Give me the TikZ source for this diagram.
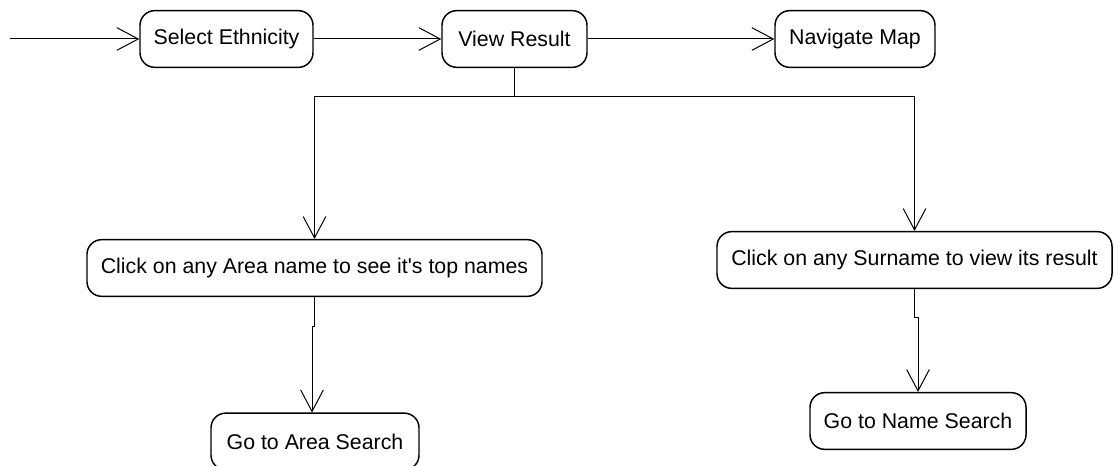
\documentclass[tikz,border=0pt]{standalone}
\usepackage{fontspec}
\setmainfont{Liberation Sans}
\usetikzlibrary{arrows.meta}
\begin{document}
\begin{tikzpicture}[x=0.75pt,y=-0.75pt,
  activity/.style={draw, line width=1.1pt, rounded corners=11pt, inner sep=0pt,
    minimum height=42.5pt, font=\fontsize{16}{19}\selectfont},
  flow/.style={line width=0.75pt, -{Straight Barb[length=16pt,width=17pt,line width=0.75pt]}},
  link/.style={line width=0.75pt}]
\useasboundingbox (0,0) rectangle (1116,466);

% activities
\node[activity, minimum width=129.75pt] (sel) at (226.5,39) {Select Ethnicity};
\node[activity, minimum width=108.75pt] (view) at (514.5,39) {View Result};
\node[activity, minimum width=120pt] (nav) at (855,39) {Navigate Map};
\node[activity, minimum width=341.25pt] (area) at (314.5,268) {Click on any Area name to see it\textquotesingle s top names};
\node[activity, minimum width=296.25pt] (surname) at (914.5,260) {Click on any Surname to view its result};
\node[activity, minimum width=156pt] (goarea) at (315,441.5) {Go to Area Search};
\node[activity, minimum width=162pt] (goname) at (918,421) {Go to Name Search};

% helper points
\coordinate (start) at (10,39);
\coordinate (jn) at (514.5,97);
\coordinate (a1) at (314.5,326);
\coordinate (a2) at (312,326);
\coordinate (s1) at (914.5,318);
\coordinate (s2) at (918,318);

% flows
\draw[flow] (start) -- (sel);
\draw[flow] (sel) -- (view);
\draw[flow] (view) -- (nav);
\draw[link] (view.south) -- (jn);
\draw[flow] (jn) -| (area.north);
\draw[flow] (jn) -| (surname.north);
\draw[flow] (area.south) -- (a1) -- (a2) -- (a2 |- goarea.north);
\draw[flow] (surname.south) -- (s1) -- (s2) -- (s2 |- goname.north);
\end{tikzpicture}
\end{document}
